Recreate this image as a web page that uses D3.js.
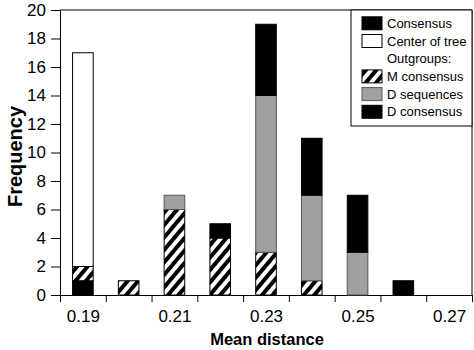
<!DOCTYPE html>
<head>
  <meta charset="utf-8">
  <style>
    body { margin: 0; background: #fff; }
    text { font-family: "Liberation Sans", Arial, sans-serif; }
  </style>
</head>
<body>
  <div id="chart"></div>
  <script src="https://d3js.org/d3.v7.min.js"></script>
  <script>
    // categories (bin centres) and tick labels
    const bins = [0.19, 0.20, 0.21, 0.22, 0.23, 0.24, 0.25, 0.26, 0.27];
    const xLabels = [0.19, 0.21, 0.23, 0.25, 0.27];
    const yTicks = [0, 2, 4, 6, 8, 10, 12, 14, 16, 18, 20];

    // series values, per bin
    const dConsensus = [1, 0, 0, 0, 0, 0, 0, 0, 0];
    const mConsensus = [1, 1, 6, 4, 3, 1, 0, 0, 0];
    const dSequences = [0, 0, 1, 0, 11, 6, 3, 0, 0];
    const centerTree = [15, 0, 0, 0, 0, 0, 0, 0, 0];
    const consensus = [0, 0, 0, 1, 5, 4, 4, 1, 0];

    const keys = ['dConsensus', 'mConsensus', 'dSequences', 'centerTree', 'consensus'];
    const seriesVals = { dConsensus, mConsensus, dSequences, centerTree, consensus };
    const rows = bins.map((b, i) => {
      let r = { bin: b };
      keys.forEach(k => r[k] = seriesVals[k][i]);
      return r;
    });

    const legendItems = [
      { label: 'Consensus', key: 'consensus' },
      { label: 'Center of tree', key: 'centerTree' },
      { label: 'Outgroups:', key: null },
      { label: 'M consensus', key: 'mConsensus' },
      { label: 'D sequences', key: 'dSequences' },
      { label: 'D consensus', key: 'dConsensus' }
    ];

    const fills = {
      dConsensus: '#000',
      mConsensus: 'url(#hatch)',
      dSequences: '#a0a0a0',
      centerTree: '#fff',
      consensus: '#000'
    };
    const strokes = {
      dConsensus: '#000', mConsensus: '#000', dSequences: '#555',
      centerTree: '#000', consensus: '#000'
    };

    const W = 474, H = 350;
    const margin = { top: 10, right: 2, bottom: 55, left: 60 };
    const width = W - margin.left - margin.right,
      height = H - margin.top - margin.bottom;

    const svg = d3.select('#chart').append('svg')
      .attr('width', W).attr('height', H);

    const defs = svg.append('defs');
    const pat = defs.append('pattern')
      .attr('id', 'hatch')
      .attr('patternUnits', 'userSpaceOnUse')
      .attr('width', 8).attr('height', 8)
      .attr('patternTransform', 'rotate(40)');
    pat.append('rect').attr('width', 8).attr('height', 8).attr('fill', '#fff');
    pat.append('rect').attr('width', 4).attr('height', 8).attr('fill', '#000');

    const g = svg.append('g')
      .attr('transform', `translate(${margin.left},${margin.top})`);

    const x = d3.scaleLinear().domain([0.185, 0.275]).range([0, width]);
    const y = d3.scaleLinear().domain([0, 20]).range([height, 0]);
    const binW = x(0.2) - x(0.19);
    const barW = binW * 0.45;

    // frame
    g.append('line').attr('x1', 0).attr('x2', width).attr('y1', 0).attr('y2', 0)
      .attr('stroke', '#000');
    g.append('line').attr('x1', width).attr('x2', width).attr('y1', 0).attr('y2', height)
      .attr('stroke', '#000');

    // y axis
    const yAxis = g.append('g')
      .call(d3.axisLeft(y).tickValues(yTicks).tickSize(9).tickPadding(5));
    yAxis.selectAll('text').attr('font-size', 17).attr('fill', '#000');

    // x axis: boundary ticks and centred labels
    const edges = d3.range(10).map(i => 0.185 + i * 0.01);
    g.append('g')
      .attr('transform', `translate(0,${height})`)
      .call(d3.axisBottom(x).tickValues(edges).tickSize(7).tickFormat(''));
    const xAxis = g.append('g')
      .attr('transform', `translate(0,${height})`)
      .call(d3.axisBottom(x).tickValues(xLabels).tickSize(0).tickPadding(15)
        .tickFormat(d3.format('.2f')));
    xAxis.select('.domain').remove();
    xAxis.selectAll('text').attr('font-size', 17).attr('fill', '#000');

    g.selectAll('.domain, .tick line').attr('stroke', '#000');

    // stacked bars
    const stacked = d3.stack().keys(keys)(rows);
    stacked.forEach(layer => {
      g.append('g').selectAll('rect')
        .data(layer.filter(d => d[1] > d[0]))
        .join('rect')
        .attr('x', d => x(d.data.bin) - barW / 2)
        .attr('y', d => y(d[1]))
        .attr('width', barW)
        .attr('height', d => y(d[0]) - y(d[1]))
        .attr('fill', fills[layer.key])
        .attr('stroke', strokes[layer.key])
        .attr('stroke-width', 1);
    });

    // axis titles
    svg.append('text')
      .attr('x', margin.left + width / 2 + 1)
      .attr('y', 345)
      .attr('text-anchor', 'middle')
      .attr('font-size', 16.5).attr('font-weight', 'bold')
      .text('Mean distance');
    svg.append('text')
      .attr('transform', `translate(22,${margin.top + height / 2 + 4}) rotate(-90)`)
      .attr('text-anchor', 'middle')
      .attr('font-size', 20).attr('font-weight', 'bold')
      .text('Frequency');

    // legend
    const lg = g.append('g').attr('transform', `translate(${width - 121},0)`);
    lg.append('rect').attr('width', 121).attr('height', 116)
      .attr('fill', '#fff').attr('stroke', '#000');
    legendItems.forEach((it, i) => {
      const cy = 13.3 + i * 17.7;
      if (it.key) {
        lg.append('rect')
          .attr('x', 11).attr('y', cy - 6.5)
          .attr('width', 20).attr('height', 13)
          .attr('fill', fills[it.key])
          .attr('stroke', it.key === 'dSequences' ? '#555' : '#000');
      }
      lg.append('text')
        .attr('x', 36).attr('y', cy + 4.5)
        .attr('font-size', 13)
        .text(it.label);
    });
  </script>
</body>
</html>
